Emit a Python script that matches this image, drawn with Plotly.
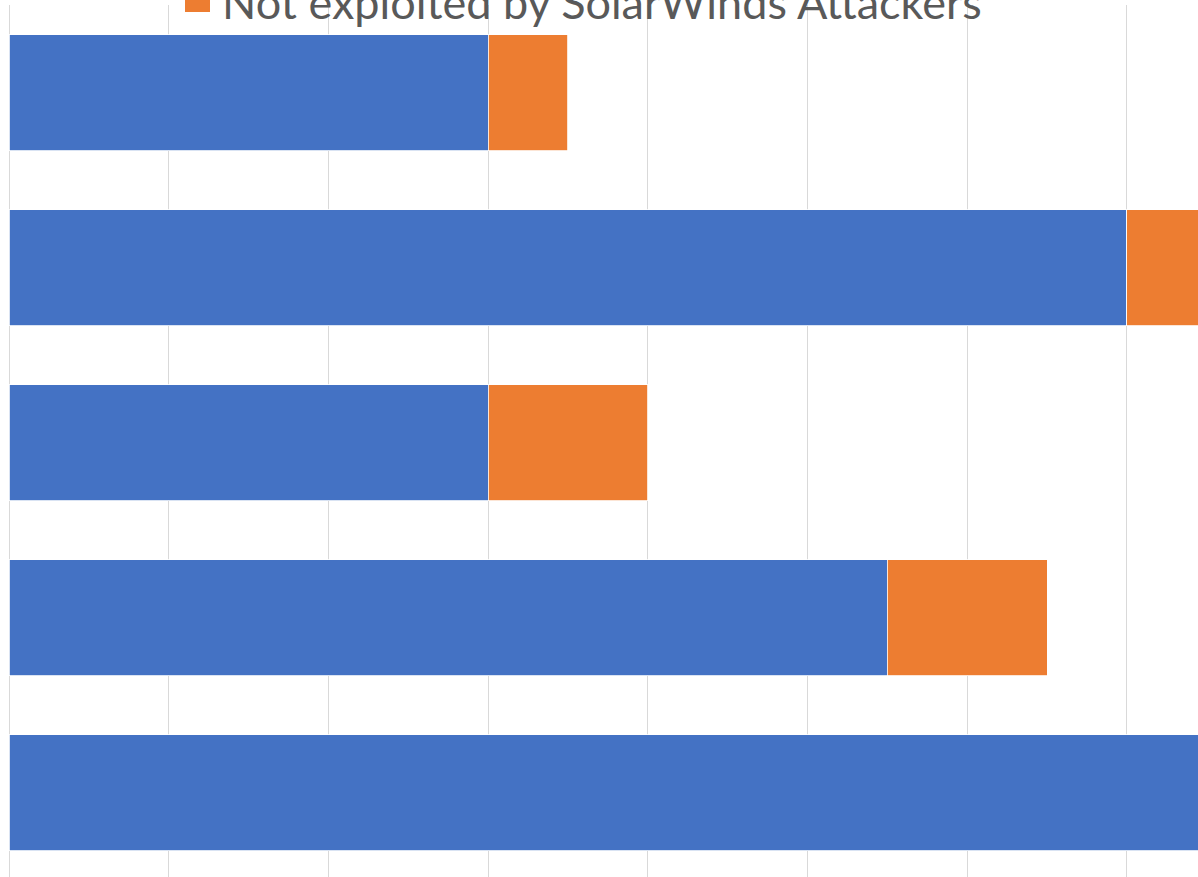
import plotly.graph_objects as go

# Categories listed bottom-to-top (Excel bar-chart order); names are cropped out of the reference
categories = ["Category 1", "Category 2", "Category 3", "Category 4", "Category 5"]
exploited = [16, 11, 6, 14, 6]
not_exploited = [1, 2, 2, 1, 1]
series_names = ["Exploited by SolarWinds Attackers", "Not exploited by SolarWinds Attackers"]
colors = ["#4472C4", "#ED7D31"]

W, H = 1198, 877
ML, MR, MT, MB = 9, 0, 5, 0
plot_w = W - ML - MR
plot_h = H - MT - MB
grid_px = 159.7
step = 2
band_px = 175.0

fig = go.Figure()
for vals, name, col in zip([exploited, not_exploited], series_names, colors):
    fig.add_trace(go.Bar(
        y=categories, x=vals, name=name, orientation="h",
        marker=dict(color=col, line=dict(color="white", width=0.8)),
        width=116 / band_px, showlegend=False,
    ))

n = len(categories)
top = n - 0.5
fig.update_layout(
    width=W, height=H, barmode="stack",
    margin=dict(l=ML, r=MR, t=MT, b=MB, pad=0),
    paper_bgcolor="white", plot_bgcolor="white",
    xaxis=dict(range=[0, plot_w / grid_px * step], dtick=step, tick0=0,
               showgrid=True, gridcolor="#D9D9D9", gridwidth=1.3,
               zeroline=True, zerolinecolor="#D9D9D9", zerolinewidth=1.3,
               showticklabels=False, ticks="", showline=False),
    yaxis=dict(range=[top - plot_h / band_px, top], showgrid=False, zeroline=False,
               showticklabels=False, ticks="", showline=False),
    font=dict(family="Lato, sans-serif", color="#595959"),
)

def px_x(px):
    return (px - ML) / plot_w

def px_y(py):
    return (H - MB - py) / plot_h

# Legend (cropped at the top of the reference): orange swatch + label
fig.add_shape(type="rect", xref="paper", yref="paper",
              x0=px_x(185), x1=px_x(210), y0=px_y(12), y1=px_y(-13),
              fillcolor=colors[1], line=dict(width=0))
fig.add_annotation(xref="paper", yref="paper", x=px_x(220), y=px_y(31),
                   xanchor="left", yanchor="bottom", showarrow=False,
                   text=series_names[1],
                   font=dict(family="Lato, sans-serif", size=45, color="#595959"))

fig.write_html("out.html")
